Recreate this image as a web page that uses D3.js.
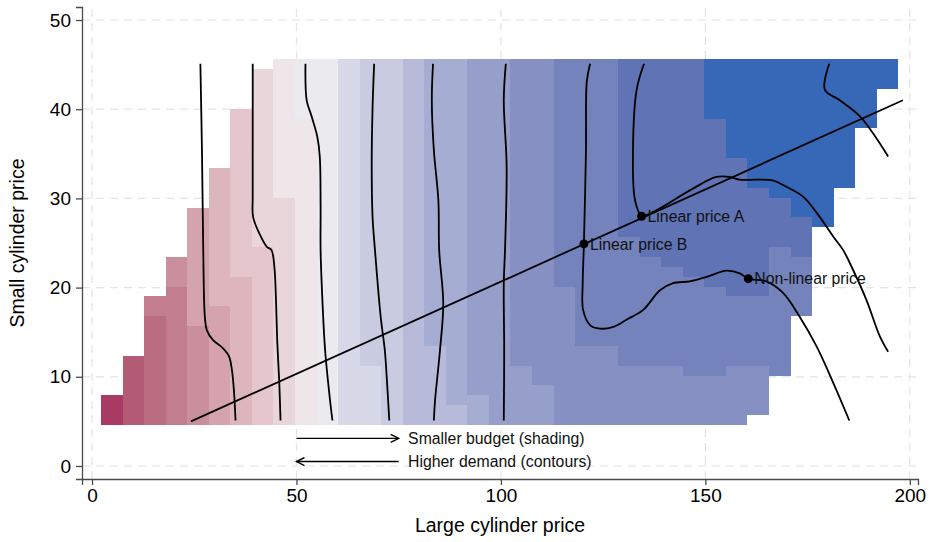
<!DOCTYPE html>
<html>
<head>
<meta charset="utf-8">
<script src="https://cdn.jsdelivr.net/npm/d3@7"></script>
<style>
    body { margin: 0; background: #fff; }
    svg { font-family: "Liberation Sans", Arial, Helvetica, sans-serif; }
</style>
</head>
<body>
<script>
    // heatmap grid (cell edges in data units)
    var nCols = 37,
        cellX0 = 2.2, cellW = 5.27,
        cellY0 = 4.6, cellH = 1.108;

    // shading level of each column: [fromRow, toRow (excl.), level], rows counted from the bottom
    var columnLevels = [
        [[0, 3, 0]],
        [[0, 7, 1]],
        [[0, 11, 2], [11, 13, 3]],
        [[0, 14, 3], [14, 17, 4]],
        [[0, 10, 4], [10, 22, 5]],
        [[0, 12, 5], [12, 26, 6]],
        [[0, 15, 6], [15, 32, 7]],
        [[0, 18, 7], [18, 36, 8]],
        [[0, 23, 8], [23, 37, 9]],
        [[0, 31, 9], [31, 37, 10]],
        [[0, 37, 10]],
        [[0, 37, 11]],
        [[0, 6, 11], [6, 37, 12]],
        [[0, 37, 12]],
        [[0, 37, 13]],
        [[0, 8, 13], [8, 37, 14]],
        [[0, 2, 13], [2, 37, 14]],
        [[0, 3, 14], [3, 37, 15]],
        [[0, 37, 15]],
        [[0, 6, 15], [6, 37, 16]],
        [[0, 4, 15], [4, 37, 16]],
        [[0, 14, 16], [14, 37, 17]],
        [[0, 8, 16], [8, 37, 17]],
        [[0, 8, 16], [8, 37, 17]],
        [[0, 6, 16], [6, 19, 17], [19, 37, 18]],
        [[0, 6, 16], [6, 17, 17], [17, 37, 18]],
        [[0, 6, 16], [6, 16, 17], [16, 37, 18]],
        [[0, 5, 16], [5, 15, 17], [15, 37, 18]],
        [[0, 5, 16], [5, 14, 17], [14, 31, 18], [31, 37, 19]],
        [[0, 6, 16], [6, 13, 17], [13, 27, 18], [27, 37, 19]],
        [[1, 6, 16], [6, 13, 17], [13, 24, 18], [24, 37, 19]],
        [[5, 18, 17], [18, 23, 18], [23, 37, 19]],
        [[11, 17, 17], [17, 21, 18], [21, 37, 19]],
        [[20, 37, 19]],
        [[24, 37, 19]],
        [[30, 37, 19]],
        [[34, 37, 19]]
    ];

    var levelColors = [
        "#a83a64", "#b35a75", "#ba6c80", "#c27e8e", "#ca8f9c",
        "#d5a3ae", "#ddb5bd", "#e4c6cc", "#e9d6da", "#efe6e9",
        "#ebebef", "#d8d9e8", "#c9cbe1", "#b7bbd9", "#a6add2",
        "#959fca", "#8690c3", "#7483bc", "#5f73b5", "#3767b7"
    ];

    // demand contours, [large price, small price]
    var contours = [
        [[26.5, 45.1], [26.9, 35], [27.2, 24.2], [27.6, 16.7], [28.1, 15.2], [29.6, 14.1], [31.8, 13.3], [33.5, 12.3], [34.2, 10.8], [34.7, 8.5], [35.1, 5.1]],
        [[39.3, 45.1], [39.3, 37], [39.3, 30.2], [39.4, 27.9], [41.1, 25.9], [42.7, 24.6], [43.9, 24.2], [44.6, 22.3], [45.0, 18.5], [45.3, 14], [45.8, 9.3], [46.1, 5.1]],
        [[52.2, 45.1], [52.5, 41.0], [53.7, 39.2], [55.1, 36.9], [55.7, 34.7], [55.9, 29], [55.9, 24.2], [56.4, 18], [57.0, 13.0], [58.2, 7.4], [58.8, 5.1]],
        [[69.0, 45.1], [68.6, 40], [68.4, 33.6], [68.6, 28], [69.2, 24.2], [70.6, 16.7], [71.6, 13.0], [72.2, 9], [72.7, 5.1]],
        [[83.4, 45.1], [83.1, 41.0], [83.6, 35.4], [84.7, 29.8], [84.9, 24.2], [85.9, 18.2], [85.1, 13.0], [83.9, 7.4], [83.6, 5.1]],
        [[101.2, 45.1], [100.7, 41.0], [101.4, 33.6], [101.0, 24.2], [100.7, 20.5], [100.8, 13.0], [100.7, 5.1]],
        [[121.8, 45.1], [121.0, 43.1], [120.8, 35.4], [120.3, 25.0], [120.0, 20.5], [120.1, 17.5], [121.8, 15.8], [124.2, 15.4], [127.5, 15.6], [130.7, 16.4], [134.8, 17.5], [138.9, 19.7], [142.1, 20.5], [146.2, 20.7], [150.3, 21.2], [155.2, 21.9], [158.4, 21.6], [160.5, 21.0], [164.9, 20.7], [169.0, 19.4], [173.1, 16.7], [177.2, 13.4], [181.3, 9.3], [185.2, 5.1]],
        [[135.0, 45.1], [133.2, 42.2], [132.3, 35.4], [132.8, 29.8], [134.4, 28.1], [138.1, 28.7], [146.2, 30.9], [152.7, 32.4], [156.0, 32.4], [158.4, 32.1], [162.5, 32.1], [166.6, 32.0], [169.8, 31.3], [173.9, 30.2], [178.0, 27.9], [181.3, 25.7], [183.7, 24.2], [186.1, 22.0], [189.4, 18.6], [192.7, 14.5], [194.7, 12.8]],
        [[180.3, 45.1], [179.2, 42.2], [182.9, 41.0], [187.8, 39.2], [191.0, 37.3], [194.7, 34.7]]
    ];

    var budgetLine = [[24.2, 5.0], [198.3, 41.0]];

    var pricePoints = [
        { label: "Linear price A", x: 134.4, y: 28.0 },
        { label: "Linear price B", x: 120.3, y: 24.9 },
        { label: "Non-linear price", x: 160.5, y: 21.0 }
    ];

    var xTicks = [0, 50, 100, 150, 200],
        yTicks = [0, 10, 20, 30, 40, 50];

    var width = 930, height = 542;

    var svg = d3.select("body")
        .append("svg")
        .attr("width", width)
        .attr("height", height);

    var x = d3.scaleLinear().domain([-2.45, 202]).range([82, 918]);
    var y = d3.scaleLinear().domain([-1.46, 51.46]).range([479, 7]);

    // dashed grid
    var grid = svg.append("g")
        .attr("stroke", "#e4e4e4")
        .attr("stroke-width", 1.2)
        .attr("stroke-dasharray", "8,6");

    grid.selectAll(".gx")
        .data(xTicks)
        .enter()
        .append("line")
        .attr("x1", function(d){ return x(d); })
        .attr("x2", function(d){ return x(d); })
        .attr("y1", y.range()[0])
        .attr("y2", y.range()[1]);

    grid.selectAll(".gy")
        .data(yTicks)
        .enter()
        .append("line")
        .attr("y1", function(d){ return y(d); })
        .attr("y2", function(d){ return y(d); })
        .attr("x1", x.range()[0])
        .attr("x2", x.range()[1]);

    // heatmap cells
    var cells = [];
    columnLevels.forEach(function(segs, c){
        segs.forEach(function(s){
            for (var r = s[0]; r < s[1]; r++){
                cells.push({ col: c, row: r, level: s[2] });
            }
        });
    });

    var color = d3.scaleOrdinal()
        .domain(d3.range(levelColors.length))
        .range(levelColors);

    svg.append("g")
        .attr("shape-rendering", "crispEdges")
        .selectAll("rect")
        .data(cells)
        .enter()
        .append("rect")
        .attr("x", function(d){ return x(cellX0 + d.col * cellW); })
        .attr("width", function(d){ return x(cellX0 + (d.col + 1) * cellW) - x(cellX0 + d.col * cellW); })
        .attr("y", function(d){ return y(cellY0 + (d.row + 1) * cellH); })
        .attr("height", function(d){ return y(cellY0 + d.row * cellH) - y(cellY0 + (d.row + 1) * cellH); })
        .attr("fill", function(d){ return color(d.level); });

    // contours
    var line = d3.line()
        .x(function(d){ return x(d[0]); })
        .y(function(d){ return y(d[1]); })
        .curve(d3.curveCatmullRom.alpha(0.5));

    svg.append("g")
        .selectAll("path")
        .data(contours)
        .enter()
        .append("path")
        .attr("d", line)
        .attr("fill", "none")
        .attr("stroke", "#000")
        .attr("stroke-width", 1.8);

    svg.append("path")
        .datum(budgetLine)
        .attr("d", d3.line().x(function(d){ return x(d[0]); }).y(function(d){ return y(d[1]); }))
        .attr("fill", "none")
        .attr("stroke", "#000")
        .attr("stroke-width", 1.8);

    // price points
    svg.selectAll(".pt")
        .data(pricePoints)
        .enter()
        .append("circle")
        .attr("cx", function(d){ return x(d.x); })
        .attr("cy", function(d){ return y(d.y); })
        .attr("r", 4.5)
        .attr("fill", "#000");

    svg.selectAll(".ptlabel")
        .data(pricePoints)
        .enter()
        .append("text")
        .attr("x", function(d){ return x(d.x) + 6; })
        .attr("y", function(d){ return y(d.y); })
        .attr("dy", "0.36em")
        .attr("font-size", "15.8px")
        .attr("fill", "#111")
        .text(function(d){ return d.label; });

    // arrows with notes
    var defs = svg.append("defs");
    defs.append("marker")
        .attr("id", "chev")
        .attr("viewBox", "0 0 10 10")
        .attr("refX", 9)
        .attr("refY", 5)
        .attr("markerWidth", 10)
        .attr("markerHeight", 10)
        .attr("markerUnits", "userSpaceOnUse")
        .attr("orient", "auto")
        .append("path")
        .attr("d", "M1,1 L9,5 L1,9")
        .attr("fill", "none")
        .attr("stroke", "#000")
        .attr("stroke-width", 1.4);

    var notes = [
        { text: "Smaller budget (shading)", from: 50, to: 75, y: 3.1 },
        { text: "Higher demand (contours)", from: 75, to: 50, y: 0.5 }
    ];

    notes.forEach(function(n){
        svg.append("line")
            .attr("x1", x(n.from))
            .attr("x2", x(n.to))
            .attr("y1", y(n.y))
            .attr("y2", y(n.y))
            .attr("stroke", "#000")
            .attr("stroke-width", 1.4)
            .attr("marker-end", "url(#chev)");
        svg.append("text")
            .attr("x", x(77.3))
            .attr("y", y(n.y))
            .attr("dy", "0.36em")
            .attr("font-size", "15.8px")
            .attr("fill", "#111")
            .text(n.text);
    });

    // axes
    var xAxis = svg.append("g")
        .attr("transform", "translate(0," + y.range()[0] + ")")
        .call(d3.axisBottom(x).tickValues(xTicks).tickSizeOuter(0).tickSize(6).tickPadding(4));

    var yAxis = svg.append("g")
        .attr("transform", "translate(" + x.range()[0] + ",0)")
        .call(d3.axisLeft(y).tickValues(yTicks).tickSizeOuter(0).tickSize(6).tickPadding(5));

    [xAxis, yAxis].forEach(function(ax){
        ax.select(".domain").attr("stroke", "#4a4a4a").attr("stroke-width", 1.3);
        ax.selectAll(".tick line").attr("stroke", "#4a4a4a").attr("stroke-width", 1.3);
        ax.selectAll(".tick text")
            .attr("font-size", "19px")
            .attr("font-family", "Liberation Sans, Arial, sans-serif")
            .attr("fill", "#000");
    });

    svg.append("text")
        .attr("x", (x.range()[0] + x.range()[1]) / 2)
        .attr("y", 532)
        .attr("text-anchor", "middle")
        .attr("font-size", "19.5px")
        .text("Large cylinder price");

    svg.append("text")
        .attr("transform", "translate(24," + ((y.range()[0] + y.range()[1]) / 2) + ") rotate(-90)")
        .attr("text-anchor", "middle")
        .attr("font-size", "19.5px")
        .text("Small cylinder price");
</script>
</body>
</html>
